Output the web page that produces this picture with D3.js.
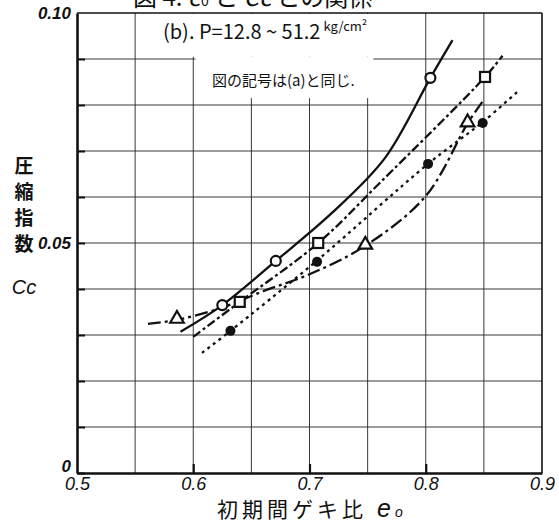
<!DOCTYPE html>
<html>
<head>
<meta charset="utf-8">
<script src="https://cdn.jsdelivr.net/npm/d3@7"></script>
<style>
  body { margin: 0; background: #fff; }
  svg { display: block; }
  .jp { font-family: "Noto Sans CJK JP", sans-serif; }
  .num { font-family: "Liberation Sans", sans-serif; font-style: italic; }
</style>
</head>
<body>
<svg width="559" height="525"></svg>
<script>
// values (e0, Cc)
var yTickLabels = [0, 0.05, 0.10];
var xTickLabels = [0.5, 0.6, 0.7, 0.8, 0.9];

var circleMarks = [[0.625, 0.0365], [0.671, 0.0461], [0.804, 0.0859]];
var circleLine = [[0.589, 0.0307], [0.625, 0.0365], [0.671, 0.0461], [0.720, 0.0567], [0.765, 0.0685], [0.804, 0.0859], [0.823, 0.0941]];

var squareMarks = [[0.640, 0.0372], [0.7075, 0.0500], [0.851, 0.0861]];
var squareLine = [[0.600, 0.0296], [0.640, 0.0372], [0.7075, 0.0500], [0.761, 0.0632], [0.851, 0.0861], [0.866, 0.0907]];

var dotMarks = [[0.632, 0.0309], [0.7065, 0.0459], [0.802, 0.0672], [0.849, 0.0761]];
var dotLine = [[0.6075, 0.0261], [0.632, 0.0309], [0.7065, 0.0462], [0.802, 0.0672], [0.849, 0.0763], [0.8785, 0.0828]];

var triMarks = [[0.586, 0.0333], [0.748, 0.0494], [0.836, 0.0760]];
var triLine = [[0.561, 0.0324], [0.586, 0.0333], [0.622, 0.0357], [0.660, 0.0395], [0.700, 0.0432], [0.748, 0.0494], [0.800, 0.0602], [0.836, 0.0760], [0.849, 0.0808]];

var svg = d3.select("svg");

// scales
var x = d3.scaleLinear().domain([0.5, 0.9]).range([77, 542]);
var y = d3.scaleLinear().domain([0, 0.1]).range([473, 13]);

// grid
var grid = svg.append("g").attr("stroke", "#222").attr("stroke-width", 0.9);
grid.selectAll(".gx")
  .data(d3.range(0.55, 0.9, 0.05))
  .enter().append("line")
  .attr("x1", d => x(d)).attr("x2", d => x(d))
  .attr("y1", y(0.1)).attr("y2", y(0));
grid.selectAll(".gy")
  .data(d3.range(0.01, 0.1, 0.01))
  .enter().append("line")
  .attr("x1", x(0.5)).attr("x2", x(0.9))
  .attr("y1", d => y(d)).attr("y2", d => y(d));

// blank areas behind the hand lettering
svg.append("rect")
  .attr("x", x(0.552)).attr("y", y(0.0998))
  .attr("width", x(0.798) - x(0.552)).attr("height", y(0.0905) - y(0.0998))
  .attr("fill", "#fff");
svg.append("rect")
  .attr("x", x(0.602)).attr("y", y(0.0905))
  .attr("width", x(0.755) - x(0.602)).attr("height", y(0.0815) - y(0.0905))
  .attr("fill", "#fff");

// frame
svg.append("line").attr("x1", x(0.5)).attr("x2", x(0.9)).attr("y1", y(0.1)).attr("y2", y(0.1))
  .attr("stroke", "#111").attr("stroke-width", 1.6);
svg.append("line").attr("x1", x(0.9)).attr("x2", x(0.9)).attr("y1", y(0.1)).attr("y2", y(0))
  .attr("stroke", "#111").attr("stroke-width", 1.6);

// tick stubs
svg.append("g")
  .attr("transform", "translate(" + x(0.5) + ",0)")
  .call(d3.axisRight(y).tickValues(d3.range(0, 0.1, 0.01)).tickSize(8).tickFormat(""))
  .call(g => g.select(".domain").remove())
  .selectAll("line").attr("stroke", "#111").attr("stroke-width", 2);
svg.append("g")
  .attr("transform", "translate(0," + y(0) + ")")
  .call(d3.axisTop(x).tickValues([0.6, 0.7, 0.8]).tickSize(9).tickFormat(""))
  .call(g => g.select(".domain").remove())
  .selectAll("line").attr("stroke", "#111").attr("stroke-width", 2.2);

// axes with labels
var yAxis = svg.append("g")
  .attr("transform", "translate(" + x(0.5) + ",0)")
  .call(d3.axisLeft(y).tickValues(yTickLabels).tickSize(0).tickPadding(6)
    .tickFormat(d => d === 0 ? "0" : d3.format(".2f")(d)));
yAxis.select(".domain").attr("stroke", "#111").attr("stroke-width", 2.6);
yAxis.selectAll("text")
  .attr("class", "num")
  .style("font-size", "17px")
  .style("font-weight", "bold")
  .attr("fill", "#111")
  .attr("dy", d => d === 0 ? "-0.1em" : "0.32em");

var xAxis = svg.append("g")
  .attr("transform", "translate(0," + y(0) + ")")
  .call(d3.axisBottom(x).tickValues(xTickLabels).tickSize(0).tickPadding(4)
    .tickFormat(d3.format(".1f")));
xAxis.select(".domain").attr("stroke", "#111").attr("stroke-width", 2.6);
xAxis.selectAll("text")
  .attr("class", "num")
  .style("font-size", "18px")
  .attr("fill", "#111");

// curves
var line = d3.line()
  .x(d => x(d[0]))
  .y(d => y(d[1]))
  .curve(d3.curveCatmullRom.alpha(0.5));

var series = [
  { pts: circleLine, dash: null },
  { pts: squareLine, dash: "9,3,3,3" },
  { pts: dotLine, dash: "3,4" },
  { pts: triLine, dash: "13,4,3,4" }
];

svg.append("g")
  .selectAll("path")
  .data(series)
  .enter().append("path")
  .attr("d", d => line(d.pts))
  .attr("fill", "none")
  .attr("stroke", "#111")
  .attr("stroke-width", 2.3)
  .attr("stroke-dasharray", d => d.dash);

// markers
svg.append("g").selectAll("circle")
  .data(circleMarks)
  .enter().append("circle")
  .attr("cx", d => x(d[0])).attr("cy", d => y(d[1]))
  .attr("r", 5)
  .attr("fill", "#fff").attr("stroke", "#111").attr("stroke-width", 2.2);

svg.append("g").selectAll("rect")
  .data(squareMarks)
  .enter().append("rect")
  .attr("x", d => x(d[0]) - 5).attr("y", d => y(d[1]) - 5)
  .attr("width", 10).attr("height", 10)
  .attr("fill", "#fff").attr("stroke", "#111").attr("stroke-width", 2.2);

svg.append("g").selectAll("circle")
  .data(dotMarks)
  .enter().append("circle")
  .attr("cx", d => x(d[0])).attr("cy", d => y(d[1]))
  .attr("r", 5)
  .attr("fill", "#111");

svg.append("g").selectAll("path")
  .data(triMarks)
  .enter().append("path")
  .attr("d", d3.symbol().type(d3.symbolTriangle).size(80))
  .attr("transform", d => "translate(" + x(d[0]) + "," + (y(d[1]) - 1) + ")")
  .attr("fill", "#fff").attr("stroke", "#111").attr("stroke-width", 2.2);

// title (cut off at the top edge, as in the scan)
var title = svg.append("text")
  .attr("class", "jp")
  .attr("x", 133).attr("y", 6)
  .style("font-size", "24px")
  .attr("fill", "#111");
title.append("tspan").text("図 4. ");
title.append("tspan").attr("font-style", "italic").text("e");
title.append("tspan").style("font-size", "14px").text("0");
title.append("tspan").text(" と ");
title.append("tspan").attr("font-style", "italic").text("Cc");
title.append("tspan").text(" との関係");

// subtitle
var sub = svg.append("text")
  .attr("class", "jp")
  .attr("x", 163).attr("y", 39)
  .style("font-size", "20px")
  .attr("fill", "#111");
sub.append("tspan").text("(b). P=12.8 ~ 51.2");
sub.append("tspan").attr("dx", 3).attr("dy", -8).style("font-size", "13px").text("kg/cm²");

svg.append("text")
  .attr("class", "jp")
  .attr("x", 212).attr("y", 86)
  .style("font-size", "15px")
  .attr("fill", "#111")
  .text("図の記号は(a)と同じ.");

// y label, stacked vertically
var yLabel = ["圧", "縮", "指", "数"];
svg.append("g").selectAll("text")
  .data(yLabel)
  .enter().append("text")
  .attr("class", "jp")
  .attr("x", 24)
  .attr("y", (d, i) => 173 + i * 26)
  .attr("text-anchor", "middle")
  .style("font-size", "19px")
  .style("font-weight", "bold")
  .attr("fill", "#111")
  .text(d => d);
svg.append("text")
  .attr("class", "num")
  .attr("x", 24).attr("y", 294)
  .attr("text-anchor", "middle")
  .style("font-size", "20px")
  .attr("fill", "#111")
  .text("Cc");

// x label
var xl = svg.append("text")
  .attr("class", "jp")
  .attr("x", 217).attr("y", 517)
  .style("font-size", "21px")
  .style("letter-spacing", "4px")
  .attr("fill", "#111");
xl.append("tspan").text("初期間ゲキ比");
xl.append("tspan").attr("class", "num").attr("dx", 10).style("font-size", "25px").text("e");
xl.append("tspan").attr("class", "num").style("font-size", "14px").text("o");
</script>
</body>
</html>
